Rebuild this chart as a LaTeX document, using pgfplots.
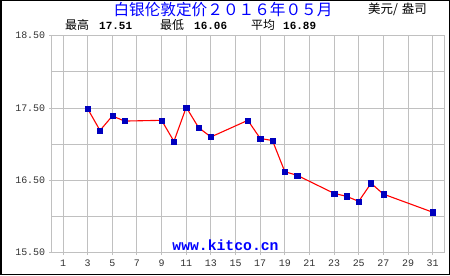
\documentclass[border=0pt]{standalone}
\usepackage{pgfplots}
\pgfplotsset{compat=1.18}
\usepackage{fontspec}
\setmainfont{Liberation Sans}
\setmonofont{Liberation Mono}
\newfontfamily\cjk{Noto Sans CJK SC}
\definecolor{gridgray}{RGB}{192,192,192}
\definecolor{markblue}{RGB}{0,0,190}
\definecolor{titleblue}{RGB}{0,0,255}
\definecolor{ticktext}{RGB}{51,51,51}
\pgfplotstableread{
day price
3 17.49
4 17.19
5 17.39
6 17.32
9 17.33
10 17.04
11 17.51
12 17.23
13 17.10
16 17.33
17 17.08
18 17.05
19 16.62
20 16.57
23 16.32
24 16.28
25 16.21
26 16.46
27 16.31
31 16.06
}\silver
\begin{document}
\begin{tikzpicture}[x=1bp,y=1bp]
\path[use as bounding box] (0,0) rectangle (450,275);
\fill[white] (0,0) rectangle (450,275);
\begin{axis}[
  at={(51.7bp,22.3bp)}, anchor=south west,
  scale only axis, width=392.3bp, height=217bp,
  xmin=0.08, xmax=31.92, ymin=15.5, ymax=18.5,
  xtick={1,3,...,31},
  ytick={15.5,16.5,17.5,18.5},
  minor ytick={16,17,18},
  grid=both,
  grid style={gridgray, line width=1bp},
  minor grid style={gridgray, line width=1bp},
  axis line style={gridgray, line width=1bp},
  tick style={gridgray, line width=1bp},
  major tick length=2.5bp, minor tick length=0pt,
  tick align=outside,
  xtick pos=bottom, ytick pos=left,
  ticklabel style={font=\ttfamily\fontsize{10}{12}\selectfont, text=ticktext},
  xticklabel style={yshift=-1bp},
  yticklabel style={xshift=-0.5bp, /pgf/number format/.cd, fixed, fixed zerofill, precision=2, assume math mode=true},
  xticklabel style={/pgf/number format/assume math mode=true},
  clip=false,
]
\addplot[only marks, mark=square*, mark size=2.6bp, mark options={fill=markblue, draw=markblue}] table[x=day, y=price] {\silver};
\addplot[red, line width=1.1bp, mark=none] table[x=day, y=price] {\silver};
\end{axis}
\node[anchor=center, inner sep=0, text=titleblue, font=\cjk\fontsize{15.7}{18}\selectfont] at (223,265.5) {白银伦敦定价２０１６年０５月};
\node[anchor=base west, inner sep=0, font=\cjk\fontsize{12.5}{14}\selectfont] at (368,262) {美元/\hspace{4bp}盎司};
\node[anchor=base west, inner sep=0, font=\cjk\fontsize{12}{14}\selectfont] at (65,245.5) {最高};
\node[anchor=base west, inner sep=0, font=\ttfamily\bfseries\fontsize{11}{13}\selectfont] at (99,245.5) {17.51};
\node[anchor=base west, inner sep=0, font=\cjk\fontsize{12}{14}\selectfont] at (160,245.5) {最低};
\node[anchor=base west, inner sep=0, font=\ttfamily\bfseries\fontsize{11}{13}\selectfont] at (194,245.5) {16.06};
\node[anchor=base west, inner sep=0, font=\cjk\fontsize{12}{14}\selectfont] at (251,245.5) {平均};
\node[anchor=base west, inner sep=0, font=\ttfamily\bfseries\fontsize{11}{13}\selectfont] at (283,245.5) {16.89};
\node[anchor=base, inner sep=0, text=titleblue, font=\ttfamily\bfseries\fontsize{14.8}{16}\selectfont] at (225.5,24.5) {www.kitco.cn};
\draw[black,line width=1.5bp] (0.75,0.75) rectangle (449.25,274.25);
\end{tikzpicture}
\end{document}
